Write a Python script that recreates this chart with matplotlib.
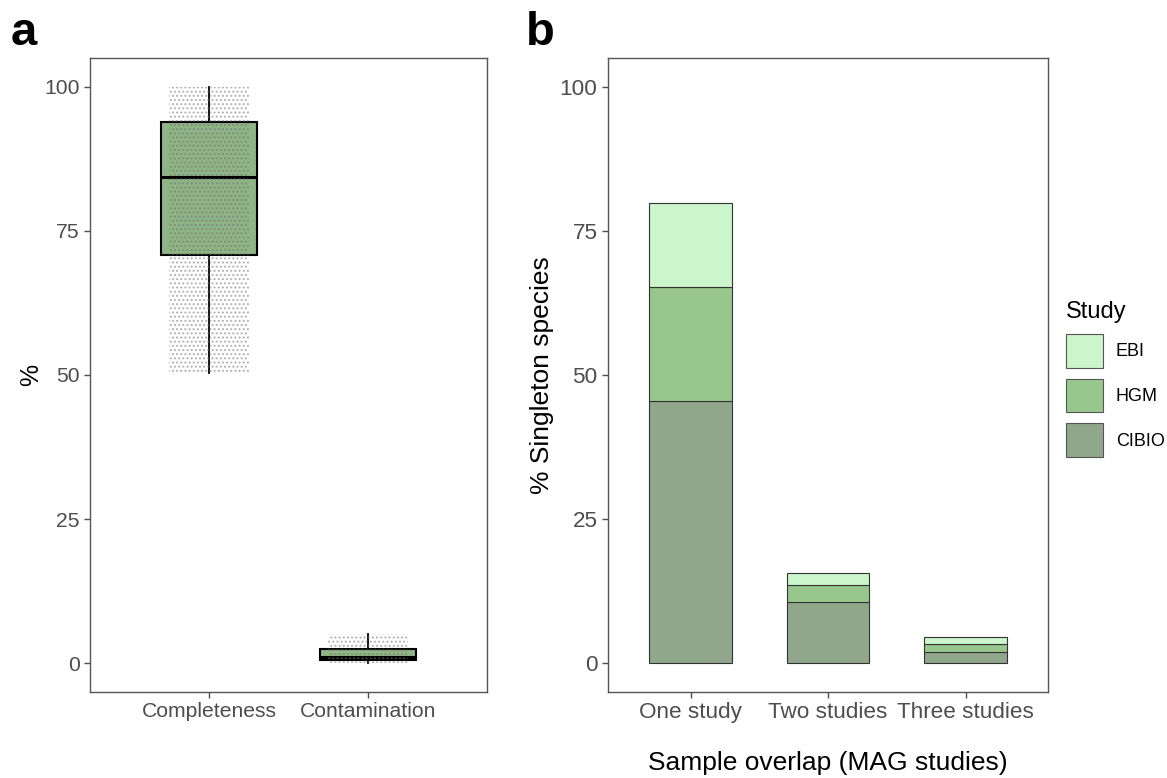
import matplotlib
matplotlib.use("Agg")
import matplotlib.pyplot as plt
from matplotlib.patches import Rectangle, Patch

plt.rcParams['font.family'] = ['Liberation Sans', 'DejaVu Sans']
plt.rcParams['hatch.linewidth'] = 1.0

# ---- Panel a data: box statistics ----
metrics = ["Completeness", "Contamination"]
whisker_low = [50.3, 0.0]
q1 = [70.8, 0.6]
median = [84.3, 1.0]
q3 = [93.9, 2.5]
whisker_high = [99.9, 5.0]

# ---- Panel b data ----
overlap = ["One study", "Two studies", "Three studies"]
studies = ["CIBIO", "HGM", "EBI"]
cibio = [45.5, 10.7, 2.0]
hgm = [19.8, 2.9, 1.4]
ebi = [14.5, 2.1, 1.2]
yticks = [0, 25, 50, 75, 100]

W, H = 1167, 778
fig = plt.figure(figsize=(W / 100, H / 100), dpi=100)

tick_col = "#4d4d4d"
frame_col = "#555555"

# ---------------- Panel a ----------------
axa = fig.add_axes([90 / W, 86 / H, 397 / W, 634 / H])
stats = []
for i, m in enumerate(metrics):
    stats.append(dict(label=m, whislo=whisker_low[i], q1=q1[i], med=median[i],
                      q3=q3[i], whishi=whisker_high[i], fliers=[]))
pos = list(range(1, len(metrics) + 1))
axa.bxp(stats, positions=pos, widths=0.6, patch_artist=True, showcaps=False,
        boxprops=dict(facecolor="#8fb485", edgecolor="black", linewidth=1.5),
        medianprops=dict(color="black", linewidth=2.2),
        whiskerprops=dict(color="black", linewidth=1.3), zorder=2)
# jittered point cloud shown as a grey dotted texture over each data range
for i, p in enumerate(pos):
    r = Rectangle((p - 0.25, whisker_low[i]), 0.5, whisker_high[i] - whisker_low[i],
                  facecolor="none", edgecolor=(0.45, 0.45, 0.45, 0.5),
                  linewidth=0, hatch="....", zorder=3)
    axa.add_patch(r)
axa.set_xlim(0.25, 2.75)
axa.set_ylim(-5, 105)
axa.set_yticks(yticks)
axa.set_xticks(pos)
axa.set_xticklabels(metrics)
axa.set_ylabel("%", fontsize=18, labelpad=1)

# ---------------- Panel b ----------------
axb = fig.add_axes([608 / W, 86 / H, 440 / W, 634 / H])
x = list(range(1, len(overlap) + 1))
colors = {"CIBIO": "#91a78c", "HGM": "#98c78e", "EBI": "#cbf5ca"}
bottom = [0.0] * len(x)
for name, vals in zip(studies, [cibio, hgm, ebi]):
    axb.bar(x, vals, width=0.6, bottom=bottom, color=colors[name],
            edgecolor="#333333", linewidth=0.8, zorder=2)
    bottom = [b + v for b, v in zip(bottom, vals)]
axb.set_xlim(0.4, 3.6)
axb.set_ylim(-5, 105)
axb.set_yticks(yticks)
axb.set_xticks(x)
axb.set_xticklabels(overlap)
axb.set_ylabel("% Singleton species", fontsize=19, labelpad=4)
axb.set_xlabel("Sample overlap (MAG studies)", fontsize=19, labelpad=20)

handles = [Patch(facecolor=colors[s], edgecolor="#555555", linewidth=0.8) for s in ["EBI", "HGM", "CIBIO"]]
leg = fig.legend(handles, ["EBI", "HGM", "CIBIO"], title="Study", loc="upper left",
                 bbox_to_anchor=(1059 / W, 1 - 294 / H), frameon=False, fontsize=13,
                 title_fontsize=17, handlelength=2.05, handleheight=2.5,
                 handletextpad=0.7, labelspacing=0.6, borderaxespad=0)
leg._legend_box.align = "left"

for ax in (axa, axb):
    for s in ax.spines.values():
        s.set_color(frame_col)
        s.set_linewidth(1.0)
    ax.tick_params(axis="both", colors=tick_col, length=4, width=1.0, labelcolor=tick_col)
axa.tick_params(axis="both", labelsize=15.2)
axb.tick_params(axis="both", labelsize=16.2)

fig.text(11 / W, 1 - 33 / H, "a", fontsize=34, fontweight="bold", va="center", ha="left")
fig.text(526 / W, 1 - 33 / H, "b", fontsize=34, fontweight="bold", va="center", ha="left")

fig.savefig("out.png", dpi=100)
